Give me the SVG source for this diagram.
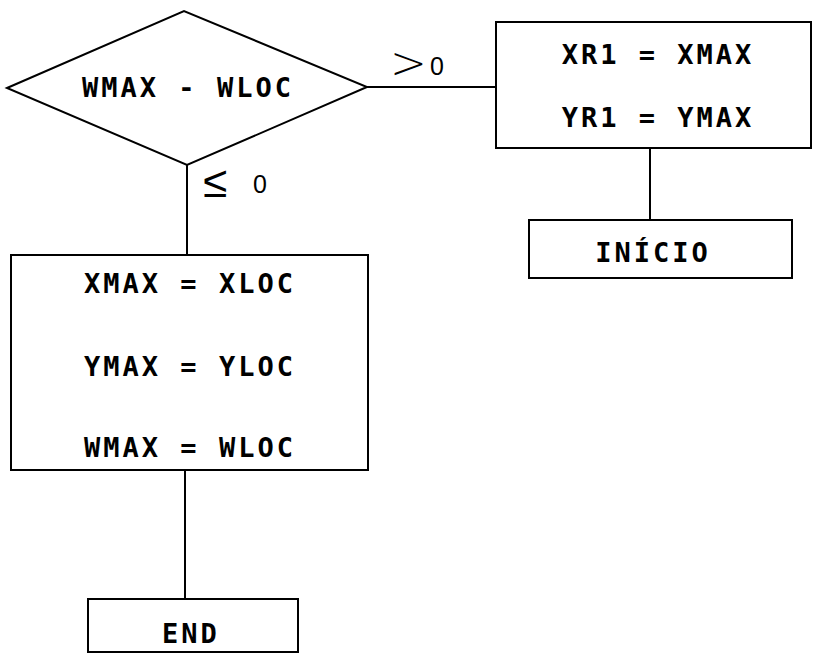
<svg xmlns="http://www.w3.org/2000/svg" width="814" height="655" viewBox="0 0 814 655">
<style>
.s{fill:none;stroke:#000;stroke-width:2}
.t{font-family:"DejaVu Sans Mono","Liberation Mono",monospace;font-size:27px;font-weight:bold;letter-spacing:3px;fill:#000;text-anchor:middle}
.h{font-family:"DejaVu Sans","Liberation Sans",sans-serif;fill:#000;font-weight:300}
.z{font-family:"Liberation Sans",sans-serif;fill:#000;font-size:25px}
</style>
<rect width="814" height="655" fill="#fff"/>
<g id="connectors">
<line class="s" x1="367" y1="87" x2="496" y2="87"/>
<line class="s" x1="187" y1="165" x2="187" y2="255"/>
<line class="s" x1="650" y1="148" x2="650" y2="220"/>
<line class="s" x1="185" y1="470" x2="185" y2="599"/>
<text class="h" x="390" y="78" font-size="44">&gt;</text>
<text class="z" x="430" y="75">0</text>
<text class="h" x="203" y="197" font-size="44">≤</text>
<text class="z" x="253" y="193">0</text>
</g>
<g id="decision">
<polygon class="s" points="7,88 184,11 367,87 187,165"/>
<text class="t" x="188" y="97">WMAX - WLOC</text>
</g>
<g id="assign-xr1">
<rect class="s" x="496" y="22" width="315" height="126"/>
<text class="t" x="658" y="64">XR1 = XMAX</text>
<text class="t" x="658" y="127">YR1 = YMAX</text>
</g>
<g id="inicio">
<rect class="s" x="529" y="220" width="263" height="58"/>
<text class="t" x="653" y="262">INÍCIO</text>
</g>
<g id="assign-max">
<rect class="s" x="11" y="255" width="357" height="215"/>
<text class="t" x="190" y="293">XMAX = XLOC</text>
<text class="t" x="190" y="376">YMAX = YLOC</text>
<text class="t" x="190" y="457">WMAX = WLOC</text>
</g>
<g id="end">
<rect class="s" x="88" y="599" width="210" height="53"/>
<text class="t" x="191" y="643">END</text>
</g>
</svg>
